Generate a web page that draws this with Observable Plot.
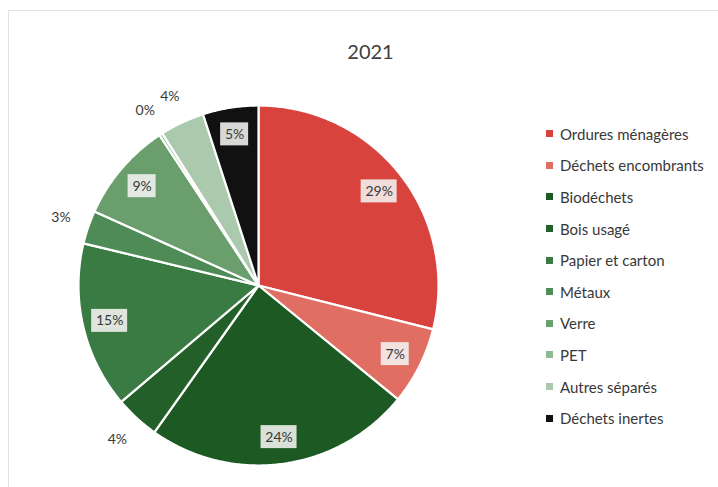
<!DOCTYPE html>
<html>
<head>
<meta charset="utf-8">
<script src="https://cdn.jsdelivr.net/npm/d3@7"></script>
<script src="https://cdn.jsdelivr.net/npm/@observablehq/plot@0.6"></script>
<style>
  html, body { margin: 0; padding: 0; background: #fff; }
  #wrap { position: relative; width: 718px; height: 487px; overflow: hidden; font-family: Lato, "Open Sans", sans-serif; }
  #frame { position: absolute; left: 8px; top: 10px; width: 730px; height: 490px; border-left: 1px solid #e2e2e2; border-top: 1px solid #e2e2e2; }
  #chart { position: absolute; left: 0; top: 0; }
  #legend { position: absolute; left: 546px; top: 118px; }
  .item { height: 31.6px; display: flex; align-items: center; font-size: 15px; color: #383838; }
  .sw { width: 7px; height: 7px; margin-right: 7px; }
</style>
</head>
<body>
<div id="wrap">
  <div id="frame"></div>
  <div id="chart"></div>
  <div id="legend"></div>
</div>
<script>
const title = "2021";
const categories = ["Ordures ménagères", "Déchets encombrants", "Biodéchets", "Bois usagé", "Papier et carton", "Métaux", "Verre", "PET", "Autres séparés", "Déchets inertes"];
const values = [29, 7, 24, 4, 15, 3, 9, 0.3, 4, 5];
const colors = ["#d8443d", "#e06e63", "#1d5a23", "#235f29", "#3a7b43", "#4f8b56", "#6a9f6d", "#8fbb92", "#abc9ad", "#111111"];
const labelInside = [true, true, true, false, true, false, true, false, false, true];

const total = d3.sum(values);
const pie = d3.pie().sort(null).value(d => d)(values);

// build slice polygons in unit-circle coordinates (x = sin, y = cos, clockwise from top)
const pts = [];
pie.forEach((a, i) => {
  pts.push({cat: categories[i], x: 0, y: 0});
  const n = Math.max(2, Math.ceil((a.endAngle - a.startAngle) / 0.01));
  for (let k = 0; k <= n; k++) {
    const t = a.startAngle + (a.endAngle - a.startAngle) * k / n;
    pts.push({cat: categories[i], x: Math.sin(t), y: Math.cos(t)});
  }
  pts.push({cat: categories[i], x: 0, y: 0});
});

const px = 1 / 180; // one pixel in unit coordinates (radius 180px)
const labels = pie.map((a, i) => {
  const mid = (a.startAngle + a.endAngle) / 2;
  const r = labelInside[i] ? 0.85 : 1.16;
  const txt = Math.round(values[i] / total * 100) + "%";
  return {cat: categories[i], x: r * Math.sin(mid), y: r * Math.cos(mid), txt, inside: labelInside[i]};
});
const boxes = labels.filter(d => d.inside).map(d => {
  const hw = (d.txt.length === 3 ? 18 : 14) * px, hh = 11.5 * px;
  return {x1: d.x - hw, x2: d.x + hw, y1: d.y - hh, y2: d.y + hh};
});

const plot = Plot.plot({
  width: 718,
  height: 487,
  marginLeft: 78,
  marginRight: 280,
  marginTop: 105,
  marginBottom: 22,
  x: {domain: [-1, 1], axis: null},
  y: {domain: [-1, 1], axis: null},
  color: {domain: categories, range: colors},
  style: {fontFamily: "Lato, 'Open Sans', sans-serif", overflow: "visible"},
  marks: [
    Plot.line(pts, {x: "x", y: "y", z: "cat", fill: "cat", stroke: "white", strokeWidth: 2.2, curve: "linear", strokeLinejoin: "round"}),
    Plot.rect(boxes, {x1: "x1", x2: "x2", y1: "y1", y2: "y2", fill: "#f4f4f2", fillOpacity: 0.88}),
    Plot.text(labels, {x: "x", y: "y", text: "txt", fontSize: 14, fill: "#383838"}),
    Plot.text([title], {frameAnchor: "top", text: d => d, dx: 112, dy: -61, fontSize: 20, fill: "#404040"})
  ]
});
document.getElementById("chart").appendChild(plot);

const leg = document.getElementById("legend");
categories.forEach((c, i) => {
  const it = document.createElement("div");
  it.className = "item";
  const sw = document.createElement("span");
  sw.className = "sw";
  sw.style.background = colors[i];
  it.appendChild(sw);
  it.appendChild(document.createTextNode(c));
  leg.appendChild(it);
});
</script>
</body>
</html>
